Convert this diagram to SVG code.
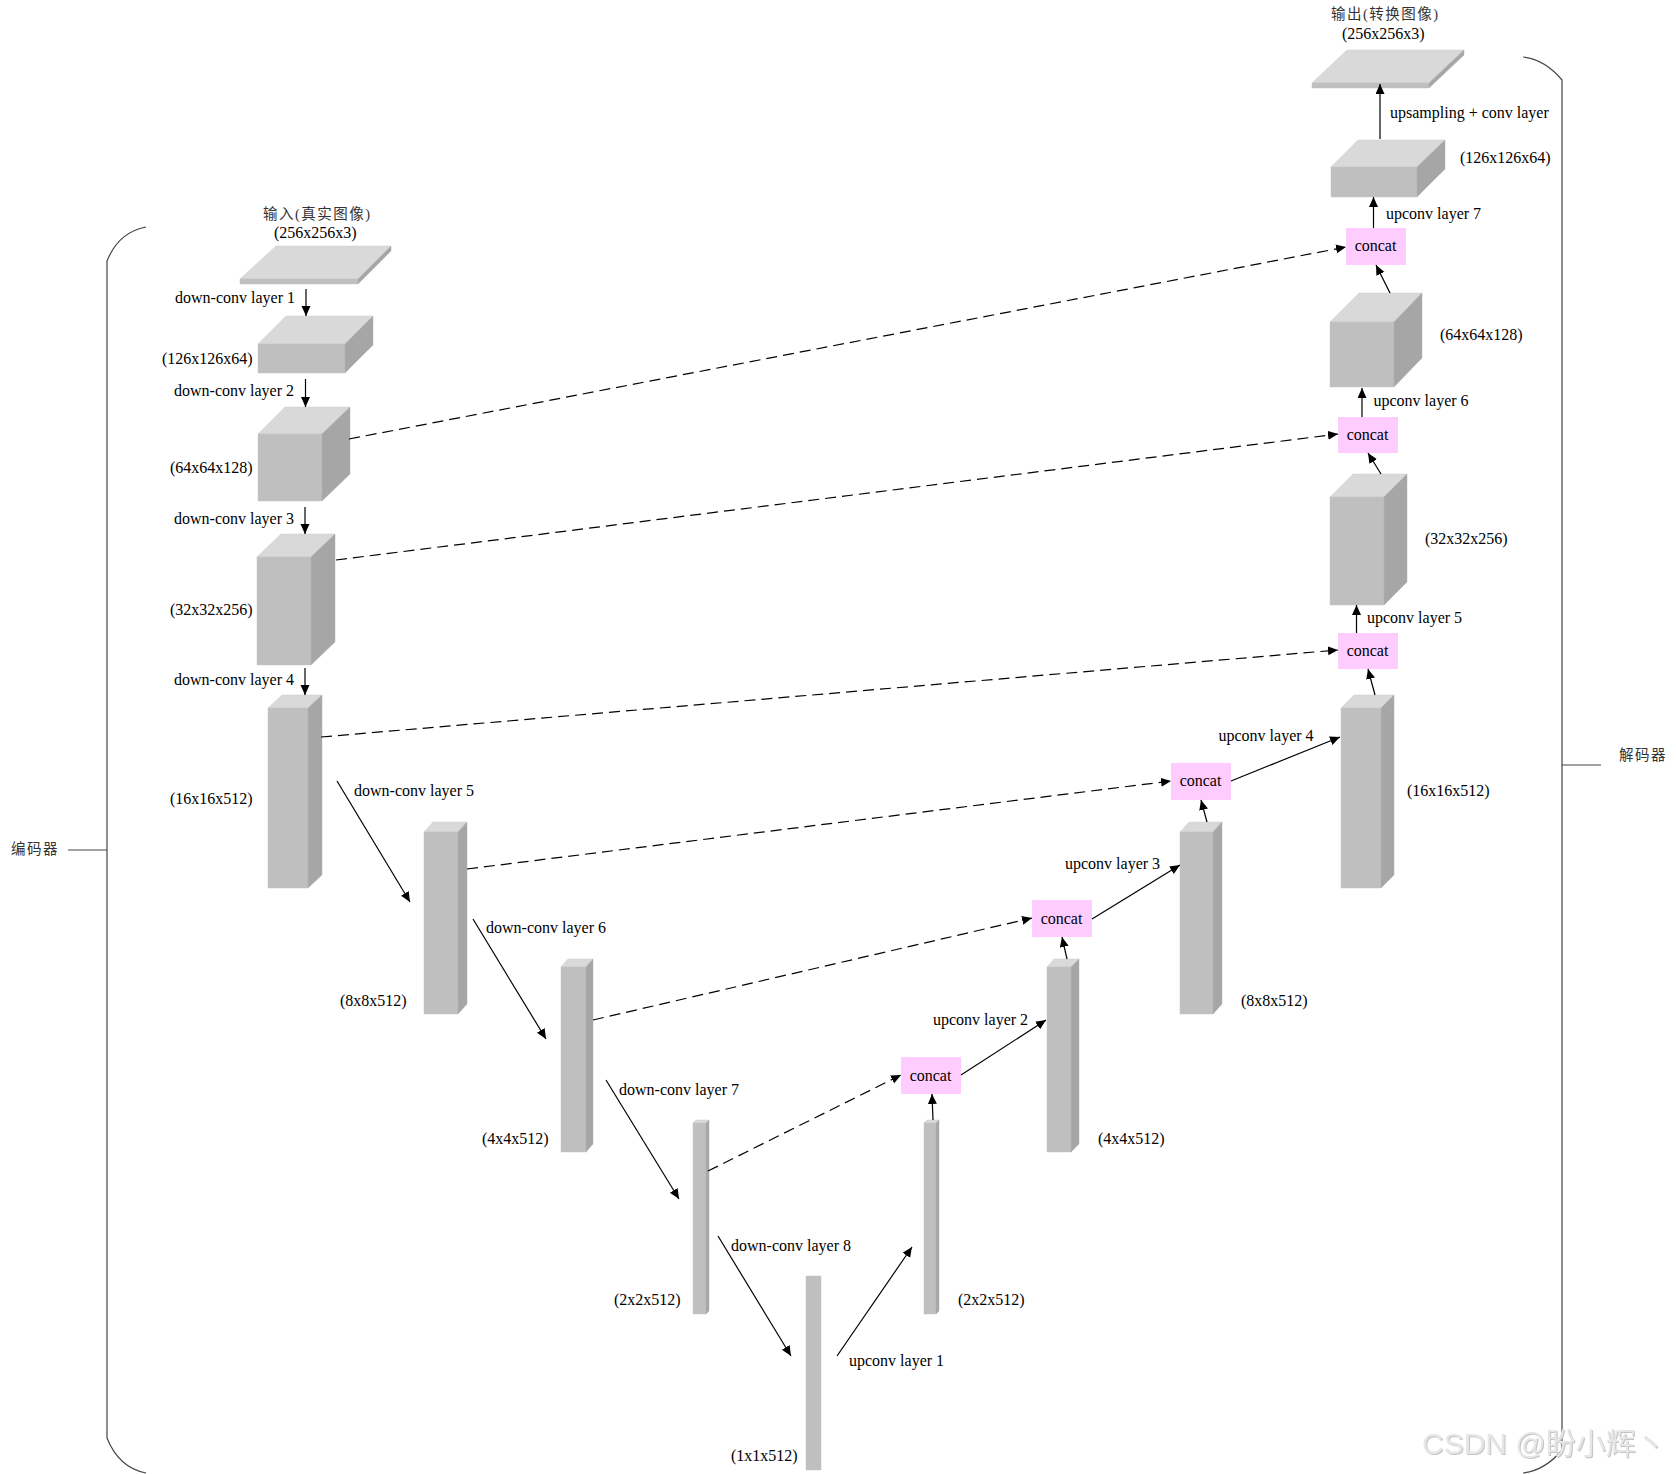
<svg xmlns="http://www.w3.org/2000/svg" width="1676" height="1474" viewBox="0 0 1676 1474">
<style>
text{font-family:"Liberation Serif","Noto Sans CJK SC",serif;font-size:16px;fill:#000}
.cjk{fill:#333;font-size:14.500px;letter-spacing:1.500px}
.t{fill:#d9d9d9;stroke:#cfcfcf;stroke-width:.5}
.f{fill:#bfbfbf;stroke:#c6c6c6;stroke-width:.5}
.s{fill:#a6a6a6;stroke:#b0b0b0;stroke-width:.5}
.c{fill:#ffccff}
.a{fill:none;stroke:#000;stroke-width:1.200;marker-end:url(#ah)}
.d{stroke-dasharray:11 6}
.b{fill:none;stroke:#444;stroke-width:1.200}
.m{font-family:"Liberation Sans","Noto Sans CJK SC",sans-serif;font-size:30px;fill:#e6e6e6;filter:drop-shadow(1px 1px 0 #c4c4c4)}
</style>
<defs>
<marker id="ah" markerUnits="userSpaceOnUse" markerWidth="11" markerHeight="10" refX="10" refY="4.500" orient="auto"><path d="M0 0L10 4.500L0 9Z" fill="#000"/></marker>
</defs>
<g id="brace-left"><path class="b" d="M146 227C125 231 113 246 107 261V1438C113 1453 125 1469 146 1473M68 850H107"/><text class="cjk" x="11" y="854">编码器</text></g>
<g id="brace-right"><path class="b" d="M1523 57C1540 59 1552 68 1562 80V1450C1552 1462 1540 1471 1523 1473M1562 765H1601"/><text class="cjk" x="1619" y="760">解码器</text></g>

<g id="input"><polygon class="t" points="240,279 276,246 391,246 358,279"/><polygon class="f" points="240,279 358,279 358,284 240,284"/><polygon class="s" points="358,279 391,246 391,251 358,284"/><text class="cjk" x="263" y="219">输入(真实图像)</text><text x="274" y="238">(256x256x3)</text></g>
<g id="enc1"><polygon class="t" points="258,344 286,316 373,316 345,344"/><rect class="f" x="258" y="344" width="87" height="29"/><polygon class="s" points="345,344 373,316 373,345 345,373"/><text x="162" y="364">(126x126x64)</text></g>
<g id="enc2"><polygon class="t" points="258,434 285,407 350,407 322,434"/><rect class="f" x="258" y="434" width="64" height="67"/><polygon class="s" points="322,434 350,407 350,474 322,501"/><text x="170" y="473">(64x64x128)</text></g>
<g id="enc3"><polygon class="t" points="257,557 281,534 335,534 311,557"/><rect class="f" x="257" y="557" width="54" height="108"/><polygon class="s" points="311,557 335,534 335,642 311,665"/><text x="170" y="615">(32x32x256)</text></g>
<g id="enc4"><polygon class="t" points="268,708 282,695 322,695 308,708"/><rect class="f" x="268" y="708" width="40" height="180"/><polygon class="s" points="308,708 322,695 322,875 308,888"/><text x="170" y="804">(16x16x512)</text></g>
<g id="enc5"><polygon class="t" points="424,832 433,822 467,822 458,832"/><rect class="f" x="424" y="832" width="34" height="182"/><polygon class="s" points="458,832 467,822 467,1004 458,1014"/><text x="340" y="1006">(8x8x512)</text></g>
<g id="enc6"><polygon class="t" points="561,967 568,959 593,959 586,967"/><rect class="f" x="561" y="967" width="25" height="185"/><polygon class="s" points="586,967 593,959 593,1144 586,1152"/><text x="482" y="1144">(4x4x512)</text></g>
<g id="enc7"><polygon class="t" points="693,1123 696,1120 709,1120 706,1123"/><rect class="f" x="693" y="1123" width="13" height="191"/><polygon class="s" points="706,1123 709,1120 709,1311 706,1314"/><text x="614" y="1305">(2x2x512)</text></g>
<g id="bottleneck"><rect class="f" x="806" y="1276" width="15" height="194"/><text x="731" y="1461">(1x1x512)</text></g>
<g id="dec1"><polygon class="t" points="924,1123 927,1120 939,1120 936,1123"/><rect class="f" x="924" y="1123" width="12" height="191"/><polygon class="s" points="936,1123 939,1120 939,1311 936,1314"/><text x="958" y="1305">(2x2x512)</text></g>
<g id="dec2"><polygon class="t" points="1047,967 1054,959 1079,959 1071,967"/><rect class="f" x="1047" y="967" width="24" height="185"/><polygon class="s" points="1071,967 1079,959 1079,1144 1071,1152"/><text x="1098" y="1144">(4x4x512)</text></g>
<g id="dec3"><polygon class="t" points="1180,832 1189,822 1222,822 1213,832"/><rect class="f" x="1180" y="832" width="33" height="182"/><polygon class="s" points="1213,832 1222,822 1222,1004 1213,1014"/><text x="1241" y="1006">(8x8x512)</text></g>
<g id="dec4"><polygon class="t" points="1341,708 1354,695 1394,695 1381,708"/><rect class="f" x="1341" y="708" width="40" height="180"/><polygon class="s" points="1381,708 1394,695 1394,875 1381,888"/><text x="1407" y="796">(16x16x512)</text></g>
<g id="dec5"><polygon class="t" points="1330,497 1353,474 1407,474 1384,497"/><rect class="f" x="1330" y="497" width="54" height="108"/><polygon class="s" points="1384,497 1407,474 1407,582 1384,605"/><text x="1425" y="544">(32x32x256)</text></g>
<g id="dec6"><polygon class="t" points="1330,322 1359,293 1422,293 1394,322"/><rect class="f" x="1330" y="322" width="64" height="65"/><polygon class="s" points="1394,322 1422,293 1422,358 1394,387"/><text x="1440" y="340">(64x64x128)</text></g>
<g id="dec7"><polygon class="t" points="1331,167 1358,140 1445,140 1417,167"/><rect class="f" x="1331" y="167" width="86" height="30"/><polygon class="s" points="1417,167 1445,140 1445,169 1417,197"/><text x="1460" y="163">(126x126x64)</text></g>
<g id="output"><polygon class="t" points="1312,83 1347,50 1464,50 1429,83"/><polygon class="f" points="1312,83 1429,83 1429,88 1312,88"/><polygon class="s" points="1429,83 1464,50 1464,55 1429,88"/><text class="cjk" x="1331" y="19">输出(转换图像)</text><text x="1342" y="39">(256x256x3)</text></g>

<g id="concat1"><rect class="c" x="1346" y="228" width="60" height="37"/><text x="1375.500" y="251" text-anchor="middle">concat</text></g>
<g id="concat2"><rect class="c" x="1338" y="417" width="60" height="36"/><text x="1367.500" y="440" text-anchor="middle">concat</text></g>
<g id="concat3"><rect class="c" x="1338" y="633" width="60" height="36"/><text x="1367.500" y="656" text-anchor="middle">concat</text></g>
<g id="concat4"><rect class="c" x="1171" y="763" width="60" height="37"/><text x="1200.500" y="786" text-anchor="middle">concat</text></g>
<g id="concat5"><rect class="c" x="1032" y="900" width="60" height="37"/><text x="1061.500" y="924" text-anchor="middle">concat</text></g>
<g id="concat6"><rect class="c" x="901" y="1057" width="60" height="37"/><text x="930.500" y="1081" text-anchor="middle">concat</text></g>

<g id="connectors">
<path class="a" d="M306 289V316"/>
<path class="a" d="M305.500 379V407"/>
<path class="a" d="M305 507V534"/>
<path class="a" d="M305 668V695"/>
<path class="a" d="M337 781L410 902"/>
<path class="a" d="M473 919L546 1039"/>
<path class="a" d="M606 1080L679 1199"/>
<path class="a" d="M718 1236L791 1356"/>
<path class="a" d="M837 1356L912 1247"/>
<path class="a" d="M933 1120L932 1094"/>
<path class="a" d="M961 1075L1046 1020"/>
<path class="a" d="M1067 959L1062 937"/>
<path class="a" d="M1092 919L1180 865"/>
<path class="a" d="M1207 822L1201 800"/>
<path class="a" d="M1231 781L1340 737"/>
<path class="a" d="M1375 695L1368 669"/>
<path class="a" d="M1356.500 633V605"/>
<path class="a" d="M1381 474L1368 453"/>
<path class="a" d="M1362 417V388"/>
<path class="a" d="M1390 293L1376 265"/>
<path class="a" d="M1373.500 228V197"/>
<path class="a" d="M1380 139V84"/>
<path class="a d" d="M349 439L1346 247"/>
<path class="a d" d="M336 560L1338 434"/>
<path class="a d" d="M321 737L1338 650"/>
<path class="a d" d="M467 869L1171 781"/>
<path class="a d" d="M593 1020L1032 918"/>
<path class="a d" d="M708 1171L901 1075"/>
<text x="175" y="303">down-conv layer 1</text>
<text x="174" y="396">down-conv layer 2</text>
<text x="174" y="524">down-conv layer 3</text>
<text x="174" y="685">down-conv layer 4</text>
<text x="354" y="796">down-conv layer 5</text>
<text x="486" y="933">down-conv layer 6</text>
<text x="619" y="1095">down-conv layer 7</text>
<text x="731" y="1251">down-conv layer 8</text>
<text x="849" y="1366">upconv layer 1</text>
<text x="933" y="1025">upconv layer 2</text>
<text x="1065" y="869">upconv layer 3</text>
<text x="1218.500" y="741">upconv layer 4</text>
<text x="1367" y="623">upconv layer 5</text>
<text x="1373.500" y="406">upconv layer 6</text>
<text x="1386" y="219">upconv layer 7</text>
<text x="1390" y="118">upsampling + conv layer</text>
</g>
<text class="m" x="1422" y="1454">CSDN @盼小辉丶</text>
</svg>
